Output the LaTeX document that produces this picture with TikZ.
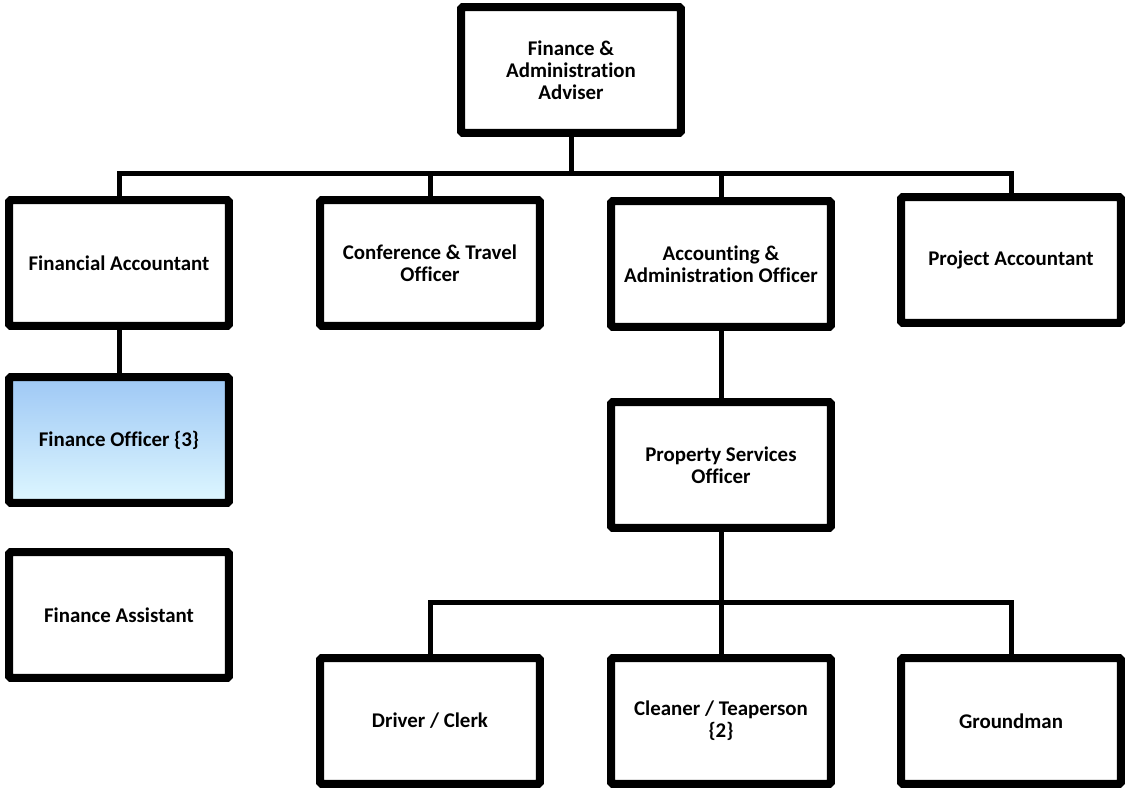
\documentclass[tikz,border=0pt]{standalone}
\usepackage{fontspec}
\setmainfont[Ligatures=NoCommon]{Carlito}
\usetikzlibrary{positioning}

\begin{document}
\begin{tikzpicture}[x=0.02cm, y=-0.02cm,
	post/.style={draw, line width=0.16cm, rounded corners=1pt, fill=white,
		minimum width=4.4cm, minimum height=2.52cm, align=center,
		font=\fontsize{11.9pt}{12.5pt}\selectfont\bfseries},
	link/.style={line width=0.1cm}]
	\useasboundingbox (0,0) rectangle (1127,788);
	\node[post] (fa) at (571,70) {Finance \&\\Administration\\Adviser};
	\node[post] (facc) at (119,263) {Financial Accountant};
	\node[post] (ct) at (430,263) {Conference \& Travel\\Officer};
	\node[post] (aa) at (721,264) {Accounting \&\\Administration Officer};
	\node[post] (pa) at (1011,260) {Project Accountant};
	\node[post, top color={rgb,255:red,158;green,200;blue,245}, bottom color={rgb,255:red,222;green,247;blue,255}] (fo) at (119,440) {Finance Officer \{3\}};
	\node[post] (fas) at (119,615) {Finance Assistant};
	\node[post] (ps) at (721,465) {Property Services\\Officer};
	\node[post] (dc) at (430,721) {Driver / Clerk};
	\node[post] (ct2) at (721,721) {Cleaner / Teaperson\\\{2\}};
	\node[post] (gm) at (1011,721) {Groundman};
	\coordinate (bus) at (571,173);
	\coordinate (bus2) at (721,602);
	\draw[link] (fa.south) -- (bus);
	\draw[link] (facc.north) -- (facc.north |- bus) -- (pa.north |- bus) -- (pa.north);
	\draw[link] (ct.north) -- (ct.north |- bus);
	\draw[link] (aa.north) -- (aa.north |- bus);
	\draw[link] (facc.south) -- (fo.north);
	\draw[link] (aa.south) -- (ps.north);
	\draw[link] (ps.south) -- (bus2);
	\draw[link] (dc.north) -- (dc.north |- bus2) -- (gm.north |- bus2) -- (gm.north);
	\draw[link] (ct2.north) -- (bus2);
\end{tikzpicture}
\end{document}
